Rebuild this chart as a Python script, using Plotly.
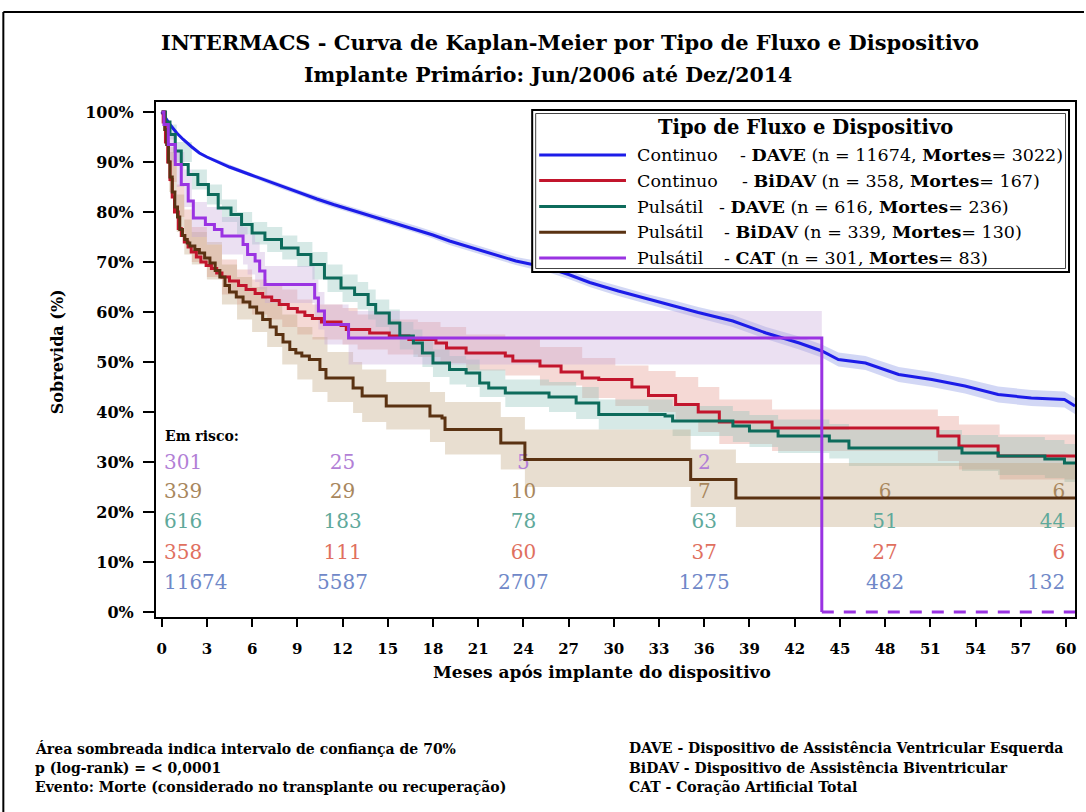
import plotly.graph_objects as go

# ---------------- data ----------------
months_ticks = list(range(0, 61, 3))
surv_ticks = list(range(0, 101, 10))

group_flow = ["Continuo", "Continuo", "Pulsátil", "Pulsátil", "Pulsátil"]
group_device = ["DAVE", "BiDAV", "DAVE", "BiDAV", "CAT"]
group_n = [11674, 358, 616, 339, 301]
group_deaths = [3022, 167, 236, 130, 83]

# Continuo - DAVE (months, survival %)
cd_t = [0, 0.25, 0.55, 1.0, 1.43, 2.0, 2.5, 3.0, 3.6, 4.5, 5.85, 7.0, 8.05, 9.2, 10.3, 11.4,
        12.5, 13.6, 14.7, 15.8, 16.9, 18.0, 19.1, 20.2, 21.3, 22.4, 23.5, 24.6, 25.7, 27.0,
        28.4, 30.3, 32.3, 34.0, 35.6, 37.9, 40.1, 42.3, 43.8, 44.9, 46.7, 48.9, 51.1, 53.3,
        55.5, 57.7, 59.9, 60.6]
cd_s = [100, 98.8, 97.5, 95.8, 94.5, 93.0, 91.8, 91.0, 90.2, 89.0, 87.5, 86.2, 85.0, 83.8,
        82.6, 81.5, 80.5, 79.5, 78.5, 77.5, 76.5, 75.4, 74.2, 73.2, 72.2, 71.2, 70.2, 69.5,
        68.8, 67.5, 65.9, 64.2, 62.5, 61.2, 59.9, 58.2, 55.8, 53.8, 52.2, 50.5, 49.8, 47.5,
        46.5, 45.2, 43.5, 42.8, 42.5, 41.2]
cd_lo = [100, 98.5, 97.2, 95.5, 94.2, 92.7, 91.5, 90.7, 89.8, 88.6, 87.1, 85.7, 84.5, 83.3,
         82.0, 80.9, 79.9, 78.9, 77.8, 76.8, 75.8, 74.7, 73.4, 72.4, 71.4, 70.4, 69.4, 68.6,
         67.9, 66.6, 65.0, 63.2, 61.5, 60.1, 58.8, 57.0, 54.6, 52.5, 50.9, 49.1, 48.4, 46.0,
         45.0, 43.7, 41.9, 41.2, 40.9, 39.6]
cd_hi = [100, 99.1, 97.8, 96.1, 94.8, 93.3, 92.1, 91.3, 90.6, 89.4, 87.9, 86.7, 85.5, 84.3,
         83.2, 82.1, 81.1, 80.1, 79.2, 78.2, 77.2, 76.1, 75.0, 74.0, 73.0, 72.0, 71.0, 70.4,
         69.7, 68.4, 66.8, 65.2, 63.5, 62.3, 61.0, 59.4, 57.0, 55.1, 53.5, 51.9, 51.2, 49.0,
         48.0, 46.7, 45.1, 44.4, 44.1, 42.8]

# Continuo - BiDAV
cb_t = [0, 0.1, 0.25, 0.4, 0.55, 0.7, 0.85, 1.1, 1.3, 1.5, 1.75, 1.96, 2.3, 2.6, 2.95, 3.3,
        3.65, 4.0, 4.5, 5.1, 5.6, 6.2, 6.7, 7.3, 7.8, 8.4, 9.0, 9.5, 10.0, 10.6, 11.9, 12.25,
        13.8, 15.1, 16.4, 18.2, 18.9, 20.2, 22.8, 23.3, 25.1, 26.5, 27.9, 29.0, 31.2, 32.3,
        34.1, 35.6, 37.0, 40.5, 51.5, 52.9, 55.5, 60.6]
cb_s = [100, 98, 94, 90, 86.5, 83, 80, 76.7, 75.3, 74, 73, 72, 71, 70, 69.3, 68.7,
        67.8, 67, 66.2, 65.3, 64.5, 63.7, 63, 62.3, 61.5, 60.7, 60, 59.3, 58.7, 58, 57.3, 56.5,
        55.8, 55.2, 54.5, 53.8, 52.8, 51.8, 51.2, 50.2, 49.2, 48, 46.8, 46.5, 45.0, 43.3,
        41.5, 40.0, 38.0, 36.8, 35.2, 33.2, 31.2, 31.2]
cb_band_t = [0, 0.5, 1.0, 1.5, 2.0, 3.0, 4.0, 5.0, 6.0, 7.0, 8.0, 9.0, 10.0, 12.0, 13.0,
             15.0, 17.0, 18.5, 20.2, 22.8, 25.1, 27.9, 30.1, 32.3, 34.1, 35.6, 37.0, 40.5,
             51.5, 52.9, 55.6, 60.6]
cb_band_lo = [100, 86, 79, 74, 70, 67, 63.5, 61.5, 59.5, 58.5, 57, 55.5, 54.5, 53.5, 52.5,
              51.5, 51, 49.8, 48.3, 47.3, 45.3, 42.8, 41.2, 40, 38.5, 36, 33.6, 32.2,
              30.2, 28.5, 26.5, 26.5]
cb_band_hi = [100, 93, 85.5, 80.5, 77, 73.5, 70.5, 68.5, 66.5, 65.5, 64.5, 62.5, 61.5, 60.8,
              59.5, 58.5, 58, 57, 55.5, 54.8, 53, 50.8, 49.3, 48.2, 47, 45, 42.5, 40.5,
              39.2, 37.5, 35.5, 35.5]

# Pulsátil - DAVE
pd_t = [0, 0.25, 0.55, 0.9, 1.3, 1.76, 2.4, 3.1, 3.75, 4.6, 5.3, 6.0, 6.85, 7.95, 9.05, 9.9,
        10.8, 11.9, 12.8, 13.7, 14.2, 15.1, 15.8, 16.7, 17.3, 18.0, 19.1, 20.2, 21.1, 21.7,
        22.8, 25.7, 27.5, 29.0, 33.4, 33.9, 37.9, 39.0, 40.9, 44.3, 45.6, 53.1, 55.5, 58.6,
        59.9, 60.6]
pd_s = [100, 98, 95.5, 92.2, 89.5, 87.5, 85.5, 83.5, 80.8, 79.5, 77.5, 75.8, 74.5, 72.8,
        71.5, 69.5, 66.8, 64.8, 63.5, 61.5, 59.8, 57.8, 55.2, 53.8, 51.8, 49.8, 48.5, 47.8,
        45.8, 44.8, 43.8, 43.0, 41.8, 39.5, 39.2, 38.2, 37.2, 36.2, 35.2, 34.2, 32.8, 31.8,
        31.2, 30.6, 29.8, 29.8]
pd_band_t = [0, 0.5, 1.0, 2.0, 3.0, 4.0, 5.0, 6.0, 7.0, 8.0, 9.0, 10.0, 11.0, 12.0, 13.0,
             13.7, 14.2, 15.1, 15.8, 16.7, 17.3, 18.0, 19.1, 20.2, 21.1, 22.8, 25.7, 27.5,
             29.0, 33.9, 37.9, 39.0, 40.9, 44.3, 45.6, 53.1, 55.5, 58.6, 59.9, 60.6]
pd_band_lo = [100, 94.5, 90, 84.5, 81.5, 78, 75.5, 73.5, 72, 70.5, 69, 66.5, 64, 62, 60.5,
              58.5, 57, 55, 52.5, 51, 49, 47, 45.5, 45, 43, 41, 40, 38.6, 36.5, 35.2, 34,
              33, 31.8, 30.7, 29.2, 28.2, 27.4, 26.8, 26, 26]
pd_band_hi = [100, 97.5, 94, 88.5, 85.5, 82.5, 80, 78, 77, 75.3, 74, 72, 69.5, 67.5, 66,
              64.5, 62.5, 60.5, 58, 56.5, 54.5, 52.5, 51.2, 50.5, 48.5, 46.5, 46, 45, 42.5,
              41.2, 40.2, 39.4, 38.5, 37.6, 36.4, 35.4, 35, 34.4, 33.6, 33.6]

# Pulsátil - BiDAV
pb_t = [0, 0.2, 0.33, 0.45, 0.55, 0.7, 0.88, 1.05, 1.2, 1.38, 1.54, 1.7, 1.87, 2.2, 2.5,
        2.85, 3.2, 3.55, 3.86, 4.2, 4.5, 4.95, 5.4, 5.85, 6.3, 6.7, 7.2, 7.6, 8.05, 8.5, 8.9,
        9.3, 9.8, 10.5, 10.9, 12.7, 13.3, 14.9, 17.8, 18.6, 18.8, 22.5, 24.1, 35.1, 38.1, 60.6]
pb_s = [100, 96.5, 93.5, 90, 87, 84, 81, 79, 76.5, 75.3, 74.5, 73.8, 73.2, 72.5, 71.8,
        70.8, 69.8, 68.3, 67, 65.3, 64, 63, 62, 61, 59.8, 58.5, 57, 55.5, 54, 52.5, 51.8,
        51.2, 50.5, 48.5, 46.8, 44.8, 43.2, 41.2, 39.2, 38.8, 36.5, 33.8, 30.5, 26.5, 22.8,
        22.8]
pb_band_t = [0, 0.5, 1.0, 1.5, 2.0, 3.0, 4.0, 5.0, 6.0, 7.0, 8.0, 9.0, 10.0, 11.0, 12.7,
             13.3, 14.9, 17.8, 18.8, 22.5, 24.1, 35.1, 38.1, 60.6]
pb_band_lo = [100, 84, 76, 71.5, 69.5, 66.5, 61.5, 58.5, 56, 53, 49.5, 46.5, 44, 42, 39.8,
              38, 36.5, 34, 31.5, 28.5, 25, 21, 17, 17]
pb_band_hi = [100, 92, 83.5, 78.5, 76, 74, 69.5, 67, 65, 62.5, 59.5, 57, 55, 52, 50, 48.5,
              46, 44, 42, 39, 36.5, 32.5, 29.8, 29.8]

# Pulsátil - CAT
pc_t = [0, 0.15, 0.44, 0.9, 1.3, 1.76, 2.1, 2.9, 3.5, 4.0, 5.4, 5.7, 6.2, 6.5, 6.85, 10.15,
        10.4, 10.8, 12.4, 43.8]
pc_s = [100, 97.5, 93.5, 89.5, 85.5, 82.2, 78.8, 77.5, 76.5, 75.2, 73.5, 71.5, 70.2, 68.2,
        65.5, 62.8, 60.2, 57.5, 54.8, 0]
pc_tail_t = [43.8, 60.6]
pc_tail_s = [0, 0]
pc_band_t = [0, 0.5, 1.0, 1.5, 2.0, 3.0, 4.0, 5.4, 5.7, 6.2, 6.5, 6.85, 10.15, 10.4, 10.8,
             12.4, 43.8]
pc_band_lo = [100, 90, 85, 81, 75, 73.5, 71.5, 69.5, 67.5, 66, 64.5, 61.8, 59, 56.5, 53.5,
              49.5, 49.5]
pc_band_hi = [100, 96, 92, 88.5, 82, 81, 79, 77, 75.5, 74, 72, 69.2, 66.5, 64, 61.5, 60.2,
              60.2]

# number at risk
risk_months = [0, 12, 24, 36, 48, 60]
risk_cat = [301, 25, 5, 2, None, None]
risk_pb = [339, 29, 10, 7, 6, 6]
risk_pd = [616, 183, 78, 63, 51, 44]
risk_cb = [358, 111, 60, 37, 27, 6]
risk_cd = [11674, 5587, 2707, 1275, 482, 132]

# ---------------- styling ----------------
SERIF = "DejaVu Serif"
line_cols = ["#1c1ce8", "#c2152c", "#0d6b5b", "#5a3212", "#9a33e2"]
band_cols = ["rgba(126,141,226,0.35)", "rgba(226,146,135,0.35)", "rgba(138,192,184,0.35)",
             "rgba(189,161,121,0.35)", "rgba(198,166,218,0.35)"]
risk_cols = ["#7088c8", "#e0705f", "#5fa99b", "#a8875d", "#b27fd6"]

# plot area in pixels
L, R, T, B = 156, 1077, 102, 617
W, H = 1086, 812


def px(x):
    return (x - L) / (R - L)


def py(y):
    return (B - y) / (B - T)


fig = go.Figure()

# confidence bands (70%)
bands = [
    (cd_t, cd_lo, cd_hi, band_cols[0], "linear"),
    (cb_band_t, cb_band_lo, cb_band_hi, band_cols[1], "hv"),
    (pd_band_t, pd_band_lo, pd_band_hi, band_cols[2], "hv"),
    (pb_band_t, pb_band_lo, pb_band_hi, band_cols[3], "hv"),
    (pc_band_t, pc_band_lo, pc_band_hi, band_cols[4], "hv"),
]
for bt, lo, hi, col, shp in bands:
    fig.add_trace(go.Scatter(x=bt, y=lo, mode="lines", line=dict(width=0, shape=shp),
                             hoverinfo="skip", showlegend=False))
    fig.add_trace(go.Scatter(x=bt, y=hi, mode="lines", line=dict(width=0, shape=shp),
                             fill="tonexty", fillcolor=col, hoverinfo="skip",
                             showlegend=False))

# numbers at risk (drawn beneath the curves)
risk_rows = [(risk_cat, risk_cols[4], 29.7), (risk_pb, risk_cols[3], 23.8),
             (risk_pd, risk_cols[2], 17.8), (risk_cb, risk_cols[1], 11.7),
             (risk_cd, risk_cols[0], 5.7)]
risk_x = [0.15, 12, 24, 36, 48, 59.95]
risk_pos = ["middle right", "middle center", "middle center", "middle center",
            "middle center", "middle left"]
for vals, col, yrow in risk_rows:
    xs = [x for x, v in zip(risk_x, vals) if v is not None]
    ts = [str(v) for v in vals if v is not None]
    ps = [p for p, v in zip(risk_pos, vals) if v is not None]
    fig.add_trace(go.Scatter(x=xs, y=[yrow] * len(xs), mode="text", text=ts,
                             textposition=ps, textfont=dict(family=SERIF, size=20, color=col),
                             hoverinfo="skip", showlegend=False))

# survival curves
curves = [(cd_t, cd_s, "linear"), (cb_t, cb_s, "hv"), (pd_t, pd_s, "hv"),
          (pb_t, pb_s, "hv"), (pc_t, pc_s, "hv")]
for (ct, cs, shp), col in zip(curves, line_cols):
    fig.add_trace(go.Scatter(x=ct, y=cs, mode="lines", line=dict(color=col, width=3, shape=shp),
                             showlegend=False))
fig.add_trace(go.Scatter(x=pc_tail_t, y=pc_tail_s, mode="lines",
                         line=dict(color=line_cols[4], width=3, dash="12px,10px"),
                         showlegend=False))

axis_common = dict(showgrid=False, zeroline=False, showline=True, mirror=True,
                   linecolor="black", linewidth=2, ticks="outside", tickcolor="black",
                   tickwidth=2)
fig.update_xaxes(range=[-0.377, 60.6], tickvals=months_ticks, ticklen=8,
                 tickfont=dict(family=SERIF, size=15, color="black", weight="bold"),
                 ticklabelstandoff=9, **axis_common)
fig.update_yaxes(range=[-1.0, 102.0], tickvals=surv_ticks,
                 ticktext=[f"{v}%" for v in surv_ticks], ticklen=11,
                 tickfont=dict(family=SERIF, size=16, color="black", weight="bold"),
                 ticklabelstandoff=6, **axis_common)

ann = []


def text(x, y, s, size, xanchor="center", angle=0, color="black"):
    ann.append(dict(x=px(x), y=py(y), xref="paper", yref="paper", text=s, showarrow=False,
                    xanchor=xanchor, yanchor="middle", textangle=angle,
                    font=dict(family=SERIF, size=size, color=color)))


text(571, 43, "<b>INTERMACS - Curva de Kaplan-Meier por Tipo de Fluxo e Dispositivo</b>", 21)
text(549, 75, "<b>Implante Primário: Jun/2006 até Dez/2014</b>", 20.5)
text(603, 672, "<b>Meses após implante do dispositivo</b>", 17)
text(57, 352, "<b>Sobrevida (%)</b>", 16, angle=-90)
text(163, 436, "<b>Em risco:</b>", 14, xanchor="left")

# legend box
shapes = [
    dict(type="rect", xref="paper", yref="paper", x0=px(533), x1=px(1071), y0=py(272),
         y1=py(110), line=dict(color="black", width=2), fillcolor="white", layer="above"),
    dict(type="rect", xref="paper", yref="paper", x0=px(536.5), x1=px(1067.5), y0=py(268.5),
         y1=py(113.5), line=dict(color="#444", width=1), layer="above"),
    # page frame
    dict(type="line", xref="paper", yref="paper", x0=px(3), x1=px(3), y0=py(12), y1=py(812),
         line=dict(color="black", width=2)),
    dict(type="line", xref="paper", yref="paper", x0=px(3), x1=px(1086), y0=py(12), y1=py(12),
         line=dict(color="black", width=2)),
]
text(807, 128, "<b>Tipo de Fluxo e Dispositivo</b>", 19.5)
row_y = [155, 180.5, 206.5, 232.3, 258]
dash_x = [739, 741, 718, 723, 723]
for i in range(5):
    shapes.append(dict(type="line", xref="paper", yref="paper", x0=px(540), x1=px(627),
                       y0=py(row_y[i]), y1=py(row_y[i]),
                       line=dict(color=line_cols[i], width=3), layer="above"))
    text(636, row_y[i], group_flow[i], 17.5, xanchor="left")
    text(dash_x[i], row_y[i],
         f"- <b>{group_device[i]}</b> (n = {group_n[i]}, <b>Mortes</b>= {group_deaths[i]})",
         17.5, xanchor="left")

# footnotes
left_notes = ["Área sombreada indica intervalo de confiança de 70%",
              "p (log-rank) = < 0,0001",
              "Evento: Morte (considerado no transplante ou recuperação)"]
right_notes = ["DAVE - Dispositivo de Assistência Ventricular Esquerda",
               "BiDAV - Dispositivo de Assistência Biventricular",
               "CAT - Coração Artificial Total"]
for k, (a, b) in enumerate(zip(left_notes, right_notes)):
    yy = 748 + 19.5 * k
    text(33, yy, f"<b>{a}</b>", 14, xanchor="left")
    text(628, yy, f"<b>{b}</b>", 14, xanchor="left")

fig.update_layout(width=W, height=H, margin=dict(l=L, r=W - R, t=T, b=H - B),
                  paper_bgcolor="white", plot_bgcolor="white", showlegend=False,
                  annotations=ann, shapes=shapes)

fig.write_html("out.html")
